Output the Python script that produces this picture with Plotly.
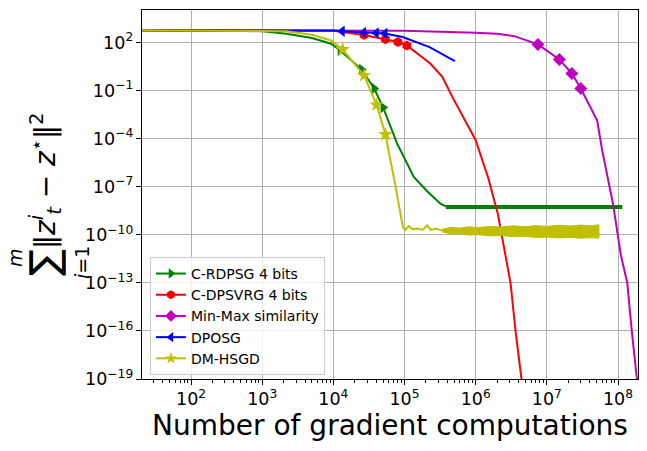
import plotly.graph_objects as go

# C-RDPSG 4 bits (green)
rdpsg_x = [20, 300, 1000, 2200, 5000, 9300, 1.25e4, 2.5e4, 3.75e4, 5e4, 7.9e4, 1.35e5, 2.1e5, 3.2e5, 3.8e5]
rdpsg_y = [562, 560, 490, 347, 186, 83, 31.6, 2.0, 0.133, 8.7e-3, 4.7e-5, 4.0e-7, 5.0e-8, 8.7e-9, 5.9e-9]
rdpsg_floor_x = [3.8e5, 1.15e8]
rdpsg_floor_y = [5.4e-9, 5.4e-9]
rdpsg_mark_x = [1.25e4, 2.5e4, 3.75e4, 5e4]
rdpsg_mark_y = [31.6, 2.0, 0.133, 8.7e-3]

# C-DPSVRG 4 bits (red)
dpsvrg_x = [20, 3000, 1e4, 2.7e4, 5.4e4, 8.1e4, 1.08e5, 2.3e5, 3.4e5, 4.7e5, 1e6, 1.5e6,
            2.05e6, 2.6e6, 3.1e6, 3.65e6, 4.3e6, 4.7e6]
dpsvrg_y = [562, 560, 525, 288, 155, 105, 65, 4.8, 0.71, 0.04, 7.9e-5, 3.6e-7,
            2.0e-9, 5e-12, 8.7e-14, 8e-17, 1e-19, 1e-20]
dpsvrg_mark_x = [2.7e4, 5.4e4, 8.1e4, 1.08e5]
dpsvrg_mark_y = [288, 155, 105, 65]

# Min-Max similarity (magenta)
minmax_x = [20, 1e5, 1e6, 2e6, 3.5e6, 5.9e6, 7.5e6, 1.5e7, 2.25e7, 3e7, 5.1e7, 6e7,
            8.5e7, 1.1e8, 1.35e8, 1.57e8, 1.8e8, 1.95e8]
minmax_y = [562, 525, 398, 347, 245, 110, 75, 8.7, 1.15, 0.133, 1.33e-3, 1.8e-5,
            8.7e-9, 5e-12, 1e-13, 8e-17, 1e-19, 1e-20]
minmax_mark_x = [7.5e6, 1.5e7, 2.25e7, 3e7]
minmax_mark_y = [75, 8.7, 1.15, 0.133]

# DPOSG (blue)
dposg_x = [20, 1e4, 1.33e4, 2.66e4, 4e4, 5.3e4, 9.4e4, 2.25e5, 5.1e5]
dposg_y = [562, 550, 490, 417, 380, 355, 214, 51, 6.8]
dposg_mark_x = [1.33e4, 2.66e4, 4e4, 5.3e4]
dposg_mark_y = [490, 417, 380, 355]

# DM-HSGD (yellow)
hsgd_x = [20, 1000, 2200, 5000, 9300, 1.35e4, 2.7e4, 4.05e4, 5.4e4, 7.2e4, 9.1e4, 9.5e4,
          1.02e5, 1.15e5, 1.29e5, 1.51e5, 1.78e5, 2.09e5, 2.34e5, 2.75e5, 3.4e5]
hsgd_y = [562, 525, 490, 302, 132, 36, 0.87, 0.0126, 1.8e-4, 2.5e-7, 5e-10, 3e-10,
          2.0e-10, 3.5e-10, 2.2e-10, 2.4e-10, 2.0e-10, 3.8e-10, 2.0e-10, 2.4e-10, 1.8e-10]
hsgd_band_x = [3.4e5, 4.5e5, 6e5, 8e5, 1.1e6, 1.6e6, 2.3e6, 3.3e6, 4.8e6, 7e6, 1e7,
               1.5e7, 2.1e7, 3e7, 4.2e7, 5.4e7]
hsgd_band_hi = [2.2e-10, 2.9e-10, 2.6e-10, 3.1e-10, 2.8e-10, 3.3e-10, 3.0e-10, 3.6e-10,
                3.2e-10, 3.7e-10, 3.3e-10, 3.9e-10, 3.5e-10, 4.0e-10, 3.6e-10, 4.2e-10]
hsgd_band_lo = [1.5e-10, 1.1e-10, 1.2e-10, 9.5e-11, 1.0e-10, 8.5e-11, 9e-11, 7.5e-11,
                8.0e-11, 6.8e-11, 7.2e-11, 6.3e-11, 6.8e-11, 6.1e-11, 6.5e-11, 6.2e-11]
hsgd_mark_x = [1.35e4, 2.7e4, 4.05e4, 5.4e4]
hsgd_mark_y = [36, 0.87, 0.0126, 1.8e-4]

GREEN, RED, MAGENTA, BLUE, YELLOW = "#008000", "#ff0000", "#bf00bf", "#0000ff", "#bfbf00"
FONT = "DejaVu Sans"
X_RANGE = [1.311, 8.281]

fig = go.Figure()


def add_series(color, symbol, size, x, y, mx, my):
    fig.add_scatter(x=x, y=y, mode="lines", line=dict(color=color, width=2),
                    showlegend=False, hoverinfo="skip")
    fig.add_scatter(x=mx, y=my, mode="markers",
                    marker=dict(color=color, symbol=symbol, size=size),
                    showlegend=False, hoverinfo="skip")


add_series(GREEN, "triangle-right", 10, rdpsg_x, rdpsg_y, rdpsg_mark_x, rdpsg_mark_y)
fig.add_scatter(x=rdpsg_floor_x, y=rdpsg_floor_y, mode="lines",
                line=dict(color=GREEN, width=4), showlegend=False)
add_series(RED, "hexagon", 10, dpsvrg_x, dpsvrg_y, dpsvrg_mark_x, dpsvrg_mark_y)
add_series(MAGENTA, "diamond", 10, minmax_x, minmax_y, minmax_mark_x, minmax_mark_y)
add_series(BLUE, "triangle-left", 10, dposg_x, dposg_y, dposg_mark_x, dposg_mark_y)
add_series(YELLOW, "star", 11, hsgd_x, hsgd_y, hsgd_mark_x, hsgd_mark_y)
fig.add_scatter(x=hsgd_band_x + hsgd_band_x[::-1], y=hsgd_band_hi + hsgd_band_lo[::-1],
                mode="lines", fill="toself", fillcolor=YELLOW,
                line=dict(color=YELLOW, width=1), showlegend=False)

# legend entries
legend_items = [
    ("C-RDPSG 4 bits", GREEN, "triangle-right"),
    ("C-DPSVRG 4 bits", RED, "hexagon"),
    ("Min-Max similarity", MAGENTA, "diamond"),
    ("DPOSG", BLUE, "triangle-left"),
    ("DM-HSGD", YELLOW, "star"),
]
for name, color, symbol in legend_items:
    fig.add_scatter(x=[None], y=[None], mode="lines+markers", name=name,
                    line=dict(color=color, width=2),
                    marker=dict(color=color, symbol=symbol, size=9))

# empty trace so the minor-tick axis gets drawn
fig.add_scatter(x=[None], y=[None], xaxis="x2", showlegend=False)

axis_common = dict(
    type="log", showline=True, linecolor="black", linewidth=1, mirror=True,
    ticks="outside", ticklen=5, tickcolor="black", showgrid=True,
    gridcolor="#b0b0b0", gridwidth=1, exponentformat="power",
    tickfont=dict(family=FONT, size=14, color="black"), zeroline=False,
    automargin=False,
)

fig.update_xaxes(
    **axis_common, range=X_RANGE, dtick=1,
    title=dict(text="Number of gradient computations",
               font=dict(family=FONT, size=28, color="black"), standoff=4),
)
fig.update_yaxes(**axis_common, range=[-19, 4.02], tick0=-19, dtick=3)

minor_ticks = [m * 10 ** k for k in range(1, 9) for m in range(2, 10)]

fig.update_layout(
    xaxis2=dict(type="log", range=X_RANGE, overlaying="x", side="bottom",
                anchor="y", tickmode="array", tickvals=minor_ticks,
                showticklabels=False, ticks="outside", ticklen=3,
                tickcolor="black", showgrid=False, zeroline=False,
                showline=False, automargin=False),
)

# y label: sum_{i=1}^m ||z_t^i - z*||^2
label_parts = [
    ("\u2211", 40, -98, 116),
    ("<i>m</i>", 19, -127, 121),
    ("<i>i</i>=1", 19, -60, 116),
    ("\u2016<i>z</i><sup><i>i</i></sup><sub><i>t</i></sub> \u2212 <i>z</i><sup>\u22c6</sup>\u2016<sup>2</sup>",
     28, -97, 198),
]
for text, size, dx, dy in label_parts:
    fig.add_annotation(text=text, xref="paper", yref="paper", x=0, y=0,
                       xanchor="center", yanchor="middle", xshift=dx, yshift=dy,
                       textangle=-90, showarrow=False,
                       font=dict(family=FONT, size=size, color="black"))

fig.update_layout(
    width=647, height=451,
    margin=dict(l=142, r=9, t=10, b=72),
    plot_bgcolor="white", paper_bgcolor="white",
    font=dict(family=FONT, color="black"),
    legend=dict(x=0.016, y=0.011, xanchor="left", yanchor="bottom",
                bgcolor="rgba(255,255,255,0.8)", bordercolor="#cccccc", borderwidth=1,
                font=dict(family=FONT, size=14, color="black"),
                itemwidth=30, tracegroupgap=0),
)

# the page's default body margin would shift the figure
fig.write_html("out.html", config={"displayModeBar": False},
               post_script="document.body.style.margin = '0px';")
